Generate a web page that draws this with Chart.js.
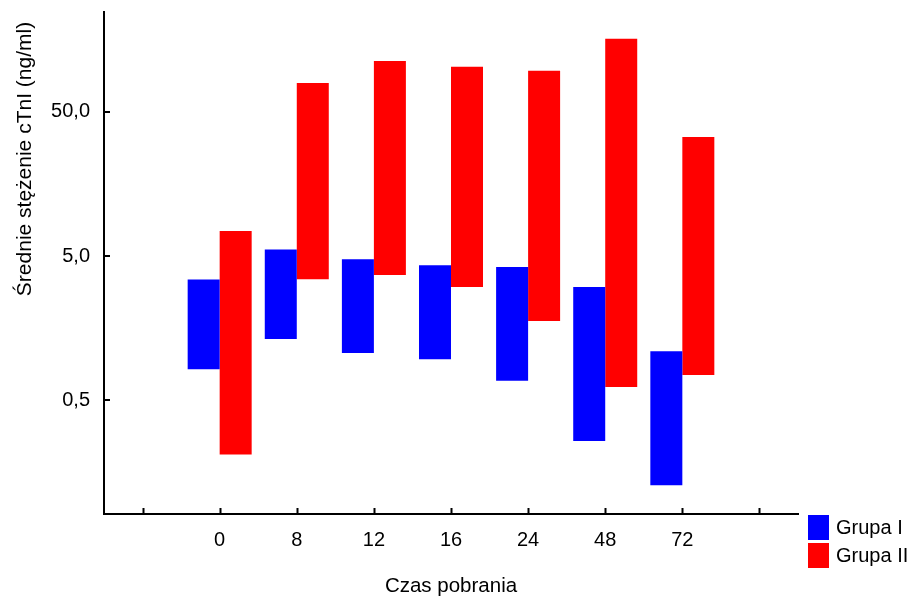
<!DOCTYPE html>
<html>
<head>
<meta charset="utf-8">
<script src="https://cdn.jsdelivr.net/npm/chart.js@4/dist/chart.umd.min.js"></script>
<style>
  body { margin: 0; background: #fff; }
  canvas { display: block; }
</style>
</head>
<body>
<canvas id="chart" width="912" height="602"></canvas>
<script>
// categories (empty slot at both ends, as in the original plot)
const categories = ['', '0', '8', '12', '16', '24', '48', '72', ''];
const yTicks = [0.5, 5, 50];

// floating bars: [low, high] for each time point (ng/ml)
const grupa1Low = [0.82, 1.33, 1.06, 0.96, 0.68, 0.26, 0.128];
const grupa1High = [3.44, 5.56, 4.74, 4.31, 4.19, 3.05, 1.09];
const grupa2Low = [0.21, 3.45, 3.69, 3.05, 1.77, 0.616, 0.746];
const grupa2High = [7.46, 79.5, 113, 103, 96.4, 161, 33.5];

const FONT = 'Liberation Sans, Arial, sans-serif';

const toRanges = (lo, hi) => [null, ...lo.map((v, i) => [v, hi[i]]), null];

// inward tick marks, rotated y title and the side legend
const decorPlugin = {
  id: 'decor',
  afterDraw: (chart) => {
    const ctx = chart.ctx;
    const area = chart.chartArea;
    const xs = chart.scales.x;
    const ys = chart.scales.y;
    ctx.save();
    ctx.strokeStyle = '#000';
    ctx.lineWidth = 2;
    ctx.beginPath();
    xs.ticks.forEach((t, i) => {
      const px = Math.round(xs.getPixelForTick(i)) + 0.5;
      ctx.moveTo(px, area.bottom);
      ctx.lineTo(px, area.bottom - 6);
    });
    yTicks.forEach((v) => {
      const py = Math.round(ys.getPixelForValue(v));
      ctx.moveTo(area.left, py);
      ctx.lineTo(area.left + 6, py);
    });
    ctx.stroke();

    // y axis title
    ctx.fillStyle = '#000';
    ctx.font = '21px ' + FONT;
    ctx.textAlign = 'center';
    ctx.textBaseline = 'middle';
    ctx.translate(25, 159);
    ctx.rotate(-Math.PI / 2);
    ctx.fillText('Średnie stężenie cTnI (ng/ml)', 0, 0);
    ctx.restore();

    // legend
    ctx.save();
    ctx.font = '20px ' + FONT;
    ctx.textAlign = 'left';
    ctx.textBaseline = 'middle';
    chart.data.datasets.forEach((ds, i) => {
      const bx = area.right + 10;
      const by = area.bottom + 1 + i * 28;
      ctx.fillStyle = ds.backgroundColor;
      ctx.fillRect(bx, by, 21, 25);
      ctx.fillStyle = '#000';
      ctx.fillText(ds.label, bx + 28, by + 13);
    });
    ctx.restore();
  },
};

new Chart(document.getElementById('chart'), {
  type: 'bar',
  data: {
    labels: categories,
    datasets: [
      {
        label: 'Grupa I',
        data: toRanges(grupa1Low, grupa1High),
        backgroundColor: '#0000ff',
        borderWidth: 0,
      },
      {
        label: 'Grupa II',
        data: toRanges(grupa2Low, grupa2High),
        backgroundColor: '#ff0000',
        borderWidth: 0,
      },
    ],
  },
  plugins: [decorPlugin],
  options: {
    responsive: false,
    animation: false,
    layout: { padding: { left: 0, right: 114, top: 12, bottom: 0 } },
    barPercentage: 1,
    categoryPercentage: 0.83,
    plugins: {
      legend: { display: false },
      tooltip: { enabled: false },
    },
    scales: {
      x: {
        offset: true,
        grid: { display: false, drawTicks: false, offset: false },
        border: { display: true, color: '#000', width: 2 },
        ticks: {
          color: '#000',
          padding: 14,
          autoSkip: false,
          maxRotation: 0,
          font: { family: FONT, size: 20 },
        },
        title: {
          display: true,
          text: 'Czas pobrania',
          color: '#000',
          font: { family: FONT, size: 20.5 },
          padding: { top: 0, bottom: 3 },
        },
        afterFit: (scale) => {
          scale.height = 88;
          scale.paddingLeft = 0;
          scale.paddingRight = 0;
        },
      },
      y: {
        type: 'logarithmic',
        min: 0.081,
        max: 247,
        grid: { display: false, drawTicks: false },
        border: { display: true, color: '#000', width: 2 },
        afterBuildTicks: (scale) => {
          scale.ticks = yTicks.map((v) => ({ value: v }));
        },
        ticks: {
          color: '#000',
          padding: 14,
          font: { family: FONT, size: 20 },
          callback: (v) => Number(v).toFixed(1).replace('.', ','),
        },
        afterFit: (scale) => {
          scale.width = 104;
          scale.paddingTop = 0;
          scale.paddingBottom = 0;
        },
      },
    },
  },
});
</script>
</body>
</html>
